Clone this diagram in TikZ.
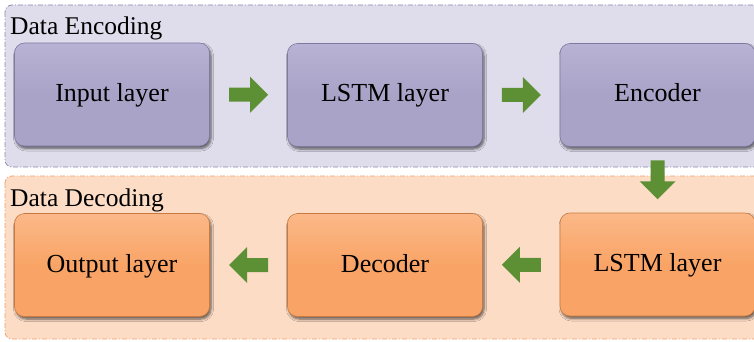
\documentclass[tikz,border=0pt]{standalone}
\usepackage{fontspec}
\setmainfont{Liberation Serif}
\usetikzlibrary{shadows.blur,calc}
\definecolor{encbg}{HTML}{DFDDEB}
\definecolor{encline}{HTML}{8E8AAE}
\definecolor{encfill}{HTML}{A9A3C8}
\definecolor{encedge}{HTML}{7F789F}
\definecolor{dechi}{HTML}{FBB888}
\definecolor{enchi}{HTML}{B8B3D4}
\definecolor{decbg}{HTML}{FDDCC6}
\definecolor{decline}{HTML}{F0A06C}
\definecolor{decfill}{HTML}{F9A466}
\definecolor{decedge}{HTML}{C97A40}
\definecolor{arrowgreen}{HTML}{5D9035}
\tikzset{
  groupbox/.style={rounded corners=7pt, line width=0.8pt, dash pattern=on 5pt off 2pt on 1pt off 2pt},
  layerbox/.style={rounded corners=10pt, minimum width=195pt, minimum height=103pt, inner sep=0pt,
    text height=18pt, text depth=4pt,
    font=\fontsize{26}{30}\selectfont, blur shadow={shadow xshift=1.5pt, shadow yshift=-2.5pt, shadow blur steps=6, shadow opacity=60, shadow blur radius=2.5pt}},
  encnode/.style={layerbox, top color=enchi, bottom color=encfill, middle color=encfill, draw=encedge, line width=0.6pt},
  decnode/.style={layerbox, top color=dechi, bottom color=decfill, middle color=decfill, draw=decedge, line width=0.6pt},
  grouplabel/.style={anchor=base west, inner sep=0pt, font=\fontsize{25.5}{30}\selectfont},
  blockarrow/.style={fill=arrowgreen, draw=none}
}
% block arrow pointing right, centred at given point, rotated
\newcommand{\greenarrow}[2]{%
  \fill[blockarrow, shift={(#1)}, rotate=#2]
    (-19.5,-7) -- (1.5,-7) -- (1.5,-18) -- (19.5,0) -- (1.5,18) -- (1.5,7) -- (-19.5,7) -- cycle;}
\begin{document}
\begin{tikzpicture}[x=1pt,y=-1pt]
\useasboundingbox (0,0) rectangle (754,342);
\fill[white] (0,0) rectangle (754,342);
% group boxes
\draw[groupbox, fill=encbg, draw=encline] (5,5) rectangle (770,167);
\draw[groupbox, fill=decbg, draw=decline] (5,176) rectangle (770,339);
\node[grouplabel] (enclabel) at (10,35) {Data Encoding};
\node[grouplabel] (declabel) at (10,206) {Data Decoding};
% encoding row
\node[encnode] (inp) at (112,94.5) {Input layer};
\node[encnode] (lstmA) at (385,95) {LSTM layer};
\node[encnode] (enc) at (657.5,95) {Encoder};
% decoding row
\node[decnode] (lstmB) at (657.5,264.5) {LSTM layer};
\node[decnode] (dec) at (385,265) {Decoder};
\node[decnode] (out) at (112,265) {Output layer};
% arrows
\greenarrow{$(inp.east)!0.5!(lstmA.west)$}{0}
\greenarrow{$(lstmA.east)!0.5!(enc.west)$}{0}
\greenarrow{$(enc.south)!0.5!(lstmB.north)$}{-90}
\greenarrow{$(lstmB.west)!0.5!(dec.east)$}{180}
\greenarrow{$(dec.west)!0.5!(out.east)$}{180}
\end{tikzpicture}
\end{document}
